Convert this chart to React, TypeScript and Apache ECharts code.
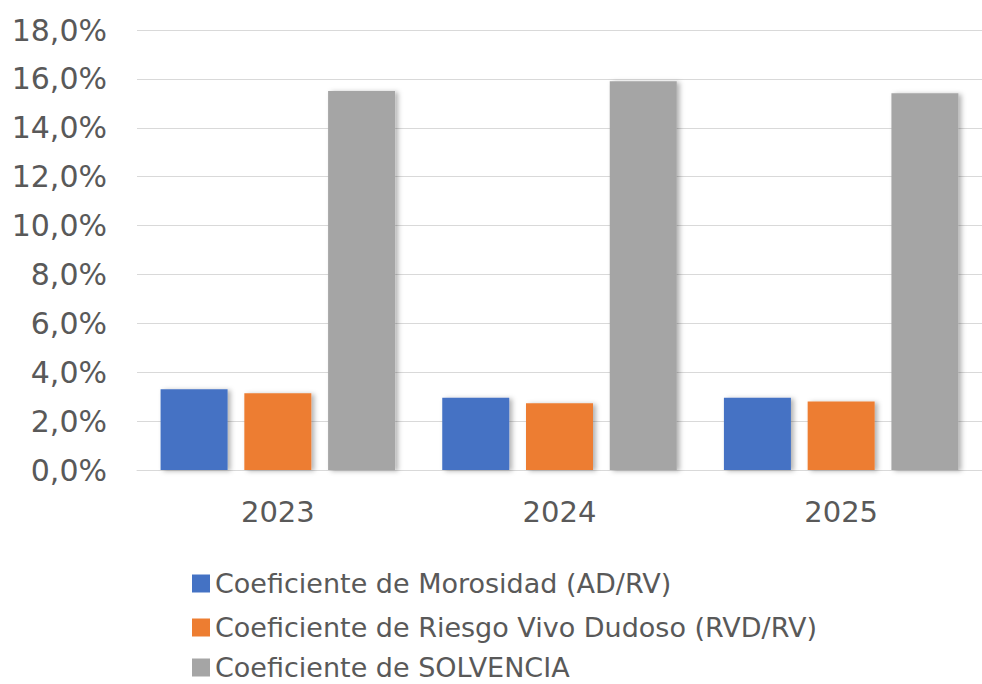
import React, { useEffect, useRef } from "react";
import * as echarts from "echarts";

const categories = ["2023", "2024", "2025"];
const seriesNames = [
  "Coeficiente de Morosidad (AD/RV)",
  "Coeficiente de Riesgo Vivo Dudoso (RVD/RV)",
  "Coeficiente de SOLVENCIA",
];
const morosidad = [3.3, 2.96, 2.96];
const riesgoDudoso = [3.14, 2.73, 2.8];
const solvencia = [15.5, 15.9, 15.41];
const colors = ["#4472C4", "#ED7D31", "#A5A5A5"];

export default function App() {
  const ref = useRef<HTMLDivElement>(null);
  useEffect(() => {
    if (!ref.current) return;
    const chart = echarts.init(ref.current, undefined, { renderer: "svg" });
    const font = "DejaVu Sans";
    const mk = (name: string, data: number[], color: string) => ({
      name,
      type: "bar",
      data,
      barWidth: 67,
      barGap: "25%",
      itemStyle: {
        color,
        shadowBlur: 5,
        shadowOffsetX: 3,
        shadowOffsetY: 1,
        shadowColor: "rgba(0,0,0,0.3)",
      },
    });
    const legendTops = [570, 614, 654];
    const legends = seriesNames.map((n, i) => ({
      orient: "vertical",
      left: 192,
      top: legendTops[i],
      padding: 0,
      itemWidth: 18,
      itemHeight: 18,
      icon: "rect",
      textStyle: {
        fontSize: 27,
        lineHeight: 25,
        color: "#595959",
        fontFamily: font,
      },
      data: [n],
    }));
    chart.setOption({
      animation: false,
      backgroundColor: "#ffffff",
      textStyle: { fontFamily: font },
      grid: { left: 137, right: -13, top: 30, bottom: 214 },
      legend: legends,
      xAxis: {
        type: "category",
        data: categories,
        axisLine: { lineStyle: { color: "#d9d9d9", width: 1 } },
        axisTick: { show: false },
        axisLabel: { fontSize: 29, color: "#595959", margin: 27, fontFamily: font },
      },
      yAxis: {
        type: "value",
        min: 0,
        max: 18,
        interval: 2,
        axisLine: { show: false },
        axisTick: { show: false },
        splitLine: { lineStyle: { color: "#d9d9d9", width: 1 } },
        axisLabel: {
          fontSize: 30,
          color: "#595959",
          margin: 30,
          fontFamily: font,
          formatter: (v: number) => v.toFixed(1).replace(".", ",") + "%",
        },
      },
      series: [
        mk(seriesNames[0], morosidad, colors[0]),
        mk(seriesNames[1], riesgoDudoso, colors[1]),
        mk(seriesNames[2], solvencia, colors[2]),
      ],
    });
    return () => chart.dispose();
  }, []);
  return <div ref={ref} style={{ width: 982, height: 684, position: "absolute", left: 0, top: 0 }} />;
}
